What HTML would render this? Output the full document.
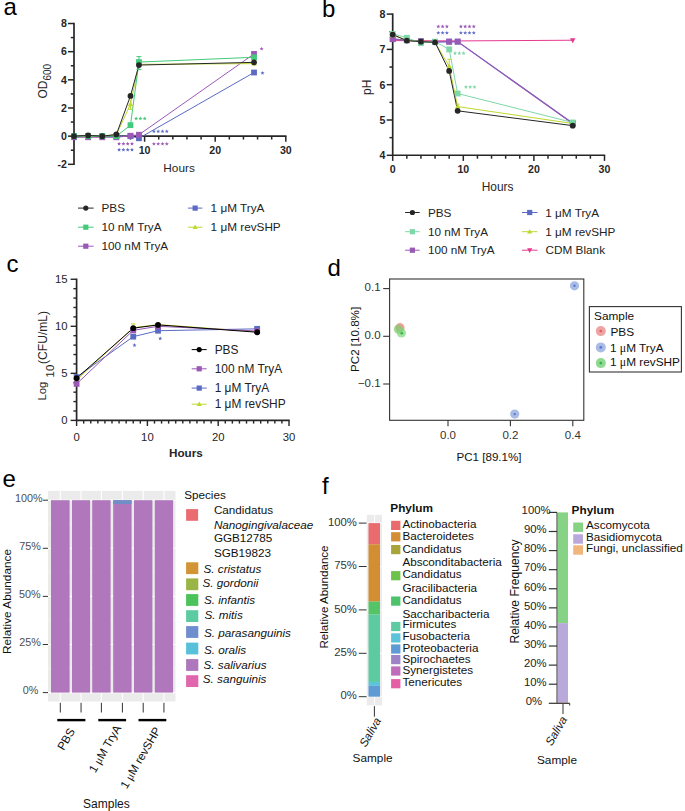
<!DOCTYPE html>
<html><head><meta charset="utf-8"><style>
html,body{margin:0;padding:0;background:#fff;}
body{width:685px;height:811px;overflow:hidden;}
svg{display:block;font-family:"Liberation Sans", sans-serif;}
</style></head><body>
<svg width="685" height="811" viewBox="0 0 685 811" font-family='"Liberation Sans", sans-serif'>
<rect width="685" height="811" fill="#fff"/>
<text x="3.50" y="15.20" font-size="24" text-anchor="start" font-weight="normal" font-style="normal" fill="#000" >a</text>
<line x1="74.00" y1="22.81" x2="74.00" y2="165.01" stroke="#262626" stroke-width="1.7" />
<line x1="74.00" y1="136.15" x2="286.50" y2="136.15" stroke="#262626" stroke-width="1.6" />
<line x1="68.00" y1="164.31" x2="74.00" y2="164.31" stroke="#262626" stroke-width="1.5" />
<line x1="70.80" y1="150.23" x2="74.00" y2="150.23" stroke="#262626" stroke-width="1.5" />
<line x1="68.00" y1="136.15" x2="74.00" y2="136.15" stroke="#262626" stroke-width="1.5" />
<line x1="70.80" y1="122.07" x2="74.00" y2="122.07" stroke="#262626" stroke-width="1.5" />
<line x1="68.00" y1="107.99" x2="74.00" y2="107.99" stroke="#262626" stroke-width="1.5" />
<line x1="70.80" y1="93.91" x2="74.00" y2="93.91" stroke="#262626" stroke-width="1.5" />
<line x1="68.00" y1="79.83" x2="74.00" y2="79.83" stroke="#262626" stroke-width="1.5" />
<line x1="70.80" y1="65.75" x2="74.00" y2="65.75" stroke="#262626" stroke-width="1.5" />
<line x1="68.00" y1="51.67" x2="74.00" y2="51.67" stroke="#262626" stroke-width="1.5" />
<line x1="70.80" y1="37.59" x2="74.00" y2="37.59" stroke="#262626" stroke-width="1.5" />
<line x1="68.00" y1="23.51" x2="74.00" y2="23.51" stroke="#262626" stroke-width="1.5" />
<text x="66.90" y="168.11" font-size="10.6" text-anchor="end" font-weight="bold" font-style="normal" fill="#262626" >-2</text>
<text x="66.90" y="139.95" font-size="10.6" text-anchor="end" font-weight="bold" font-style="normal" fill="#262626" >0</text>
<text x="66.90" y="111.79" font-size="10.6" text-anchor="end" font-weight="bold" font-style="normal" fill="#262626" >2</text>
<text x="66.90" y="83.63" font-size="10.6" text-anchor="end" font-weight="bold" font-style="normal" fill="#262626" >4</text>
<text x="66.90" y="55.47" font-size="10.6" text-anchor="end" font-weight="bold" font-style="normal" fill="#262626" >6</text>
<text x="66.90" y="27.31" font-size="10.6" text-anchor="end" font-weight="bold" font-style="normal" fill="#262626" >8</text>
<line x1="88.12" y1="136.15" x2="88.12" y2="139.55" stroke="#262626" stroke-width="1.5" />
<line x1="102.24" y1="136.15" x2="102.24" y2="139.55" stroke="#262626" stroke-width="1.5" />
<line x1="116.36" y1="136.15" x2="116.36" y2="139.55" stroke="#262626" stroke-width="1.5" />
<line x1="130.48" y1="136.15" x2="130.48" y2="139.55" stroke="#262626" stroke-width="1.5" />
<line x1="144.60" y1="136.15" x2="144.60" y2="141.75" stroke="#262626" stroke-width="1.5" />
<line x1="158.72" y1="136.15" x2="158.72" y2="139.55" stroke="#262626" stroke-width="1.5" />
<line x1="172.84" y1="136.15" x2="172.84" y2="139.55" stroke="#262626" stroke-width="1.5" />
<line x1="186.96" y1="136.15" x2="186.96" y2="139.55" stroke="#262626" stroke-width="1.5" />
<line x1="201.08" y1="136.15" x2="201.08" y2="139.55" stroke="#262626" stroke-width="1.5" />
<line x1="215.20" y1="136.15" x2="215.20" y2="141.75" stroke="#262626" stroke-width="1.5" />
<line x1="229.32" y1="136.15" x2="229.32" y2="139.55" stroke="#262626" stroke-width="1.5" />
<line x1="243.44" y1="136.15" x2="243.44" y2="139.55" stroke="#262626" stroke-width="1.5" />
<line x1="257.56" y1="136.15" x2="257.56" y2="139.55" stroke="#262626" stroke-width="1.5" />
<line x1="271.68" y1="136.15" x2="271.68" y2="139.55" stroke="#262626" stroke-width="1.5" />
<line x1="285.80" y1="136.15" x2="285.80" y2="141.75" stroke="#262626" stroke-width="1.5" />
<text x="144.60" y="154.00" font-size="10.6" text-anchor="middle" font-weight="bold" font-style="normal" fill="#262626" >10</text>
<text x="215.20" y="154.00" font-size="10.6" text-anchor="middle" font-weight="bold" font-style="normal" fill="#262626" >20</text>
<text x="285.80" y="154.00" font-size="10.6" text-anchor="middle" font-weight="bold" font-style="normal" fill="#262626" >30</text>
<text x="179.05" y="171.60" font-size="11.8" text-anchor="middle" font-weight="normal" font-style="normal" fill="#262626" >Hours</text>
<text transform="translate(46.6,98.6) rotate(-90)" font-size="12" fill="#262626">OD<tspan font-size="10" dy="4.2">600</tspan></text>
<polyline points="74.00,136.15 88.12,136.15 102.24,136.15 116.36,136.15 130.48,136.15 138.95,138.26 254.03,72.51" fill="none" stroke="#5B6BC4" stroke-width="1.0" stroke-linejoin="round" />
<polyline points="74.00,137.28 88.12,137.28 102.24,137.28 116.36,137.28 130.48,135.73 138.95,134.74 254.03,53.92" fill="none" stroke="#9B59B6" stroke-width="1.0" stroke-linejoin="round" />
<polyline points="74.00,136.15 88.12,136.15 102.24,136.15 116.36,134.74 130.48,104.19 138.95,64.34 254.03,63.64" fill="none" stroke="#BFD730" stroke-width="1.0" stroke-linejoin="round" />
<polyline points="74.00,136.15 88.12,136.15 102.24,136.15 116.36,136.15 130.48,125.17 138.95,62.09 254.03,57.30" fill="none" stroke="#45C97A" stroke-width="1.0" stroke-linejoin="round" />
<polyline points="74.00,136.15 88.12,135.45 102.24,136.15 116.36,134.46 130.48,95.88 138.95,65.05 254.03,62.37" fill="none" stroke="#262626" stroke-width="1.0" stroke-linejoin="round" />
<line x1="138.95" y1="69.55" x2="138.95" y2="56.60" stroke="#45C97A" stroke-width="1.0" />
<line x1="136.45" y1="56.60" x2="141.45" y2="56.60" stroke="#45C97A" stroke-width="1.0" />
<line x1="136.45" y1="69.55" x2="141.45" y2="69.55" stroke="#45C97A" stroke-width="1.0" />
<line x1="130.48" y1="109.40" x2="130.48" y2="99.54" stroke="#BFD730" stroke-width="1.0" />
<line x1="128.48" y1="109.40" x2="132.48" y2="109.40" stroke="#BFD730" stroke-width="1.0" />
<rect x="71.10" y="133.25" width="5.80" height="5.80" fill="#5B6BC4" />
<rect x="85.22" y="133.25" width="5.80" height="5.80" fill="#5B6BC4" />
<rect x="99.34" y="133.25" width="5.80" height="5.80" fill="#5B6BC4" />
<rect x="113.46" y="133.25" width="5.80" height="5.80" fill="#5B6BC4" />
<rect x="127.58" y="133.25" width="5.80" height="5.80" fill="#5B6BC4" />
<rect x="136.05" y="135.36" width="5.80" height="5.80" fill="#5B6BC4" />
<rect x="251.13" y="69.61" width="5.80" height="5.80" fill="#5B6BC4" />
<rect x="71.10" y="134.38" width="5.80" height="5.80" fill="#9B59B6" />
<rect x="85.22" y="134.38" width="5.80" height="5.80" fill="#9B59B6" />
<rect x="99.34" y="134.38" width="5.80" height="5.80" fill="#9B59B6" />
<rect x="113.46" y="134.38" width="5.80" height="5.80" fill="#9B59B6" />
<rect x="127.58" y="132.83" width="5.80" height="5.80" fill="#9B59B6" />
<rect x="136.05" y="131.84" width="5.80" height="5.80" fill="#9B59B6" />
<rect x="251.13" y="51.02" width="5.80" height="5.80" fill="#9B59B6" />
<polygon points="74.00,133.18 71.25,138.13 76.75,138.13" fill="#BFD730"/>
<polygon points="88.12,133.18 85.37,138.13 90.87,138.13" fill="#BFD730"/>
<polygon points="102.24,133.18 99.49,138.13 104.99,138.13" fill="#BFD730"/>
<polygon points="116.36,131.77 113.61,136.72 119.11,136.72" fill="#BFD730"/>
<polygon points="130.48,101.22 127.73,106.17 133.23,106.17" fill="#BFD730"/>
<polygon points="138.95,61.37 136.20,66.32 141.70,66.32" fill="#BFD730"/>
<polygon points="254.03,60.67 251.28,65.62 256.78,65.62" fill="#BFD730"/>
<rect x="71.10" y="133.25" width="5.80" height="5.80" fill="#45C97A" />
<rect x="85.22" y="133.25" width="5.80" height="5.80" fill="#45C97A" />
<rect x="99.34" y="133.25" width="5.80" height="5.80" fill="#45C97A" />
<rect x="113.46" y="133.25" width="5.80" height="5.80" fill="#45C97A" />
<rect x="127.58" y="122.27" width="5.80" height="5.80" fill="#45C97A" />
<rect x="136.05" y="59.19" width="5.80" height="5.80" fill="#45C97A" />
<rect x="251.13" y="54.40" width="5.80" height="5.80" fill="#45C97A" />
<circle cx="74.00" cy="136.15" r="2.90" fill="#262626" />
<circle cx="88.12" cy="135.45" r="2.90" fill="#262626" />
<circle cx="102.24" cy="136.15" r="2.90" fill="#262626" />
<circle cx="116.36" cy="134.46" r="2.90" fill="#262626" />
<circle cx="130.48" cy="95.88" r="2.90" fill="#262626" />
<circle cx="138.95" cy="65.05" r="2.90" fill="#262626" />
<circle cx="254.03" cy="62.37" r="2.90" fill="#262626" />
<polygon points="136.10,116.50 136.66,117.84 138.10,117.95 137.00,118.89 137.33,120.30 136.10,119.54 134.87,120.30 135.20,118.89 134.10,117.95 135.54,117.84" fill="#45C97A"/>
<polygon points="140.40,116.50 140.96,117.84 142.40,117.95 141.30,118.89 141.63,120.30 140.40,119.54 139.17,120.30 139.50,118.89 138.40,117.95 139.84,117.84" fill="#45C97A"/>
<polygon points="144.70,116.50 145.26,117.84 146.70,117.95 145.60,118.89 145.93,120.30 144.70,119.54 143.47,120.30 143.80,118.89 142.70,117.95 144.14,117.84" fill="#45C97A"/>
<polygon points="119.10,141.70 119.66,143.04 121.10,143.15 120.00,144.09 120.33,145.50 119.10,144.75 117.87,145.50 118.20,144.09 117.10,143.15 118.54,143.04" fill="#9B59B6"/>
<polygon points="123.40,141.70 123.96,143.04 125.40,143.15 124.30,144.09 124.63,145.50 123.40,144.75 122.17,145.50 122.50,144.09 121.40,143.15 122.84,143.04" fill="#9B59B6"/>
<polygon points="127.70,141.70 128.26,143.04 129.70,143.15 128.60,144.09 128.93,145.50 127.70,144.75 126.47,145.50 126.80,144.09 125.70,143.15 127.14,143.04" fill="#9B59B6"/>
<polygon points="132.00,141.70 132.56,143.04 134.00,143.15 132.90,144.09 133.23,145.50 132.00,144.75 130.77,145.50 131.10,144.09 130.00,143.15 131.44,143.04" fill="#9B59B6"/>
<polygon points="119.10,147.70 119.66,149.04 121.10,149.15 120.00,150.09 120.33,151.50 119.10,150.75 117.87,151.50 118.20,150.09 117.10,149.15 118.54,149.04" fill="#5B6BC4"/>
<polygon points="123.40,147.70 123.96,149.04 125.40,149.15 124.30,150.09 124.63,151.50 123.40,150.75 122.17,151.50 122.50,150.09 121.40,149.15 122.84,149.04" fill="#5B6BC4"/>
<polygon points="127.70,147.70 128.26,149.04 129.70,149.15 128.60,150.09 128.93,151.50 127.70,150.75 126.47,151.50 126.80,150.09 125.70,149.15 127.14,149.04" fill="#5B6BC4"/>
<polygon points="132.00,147.70 132.56,149.04 134.00,149.15 132.90,150.09 133.23,151.50 132.00,150.75 130.77,151.50 131.10,150.09 130.00,149.15 131.44,149.04" fill="#5B6BC4"/>
<polygon points="153.90,129.30 154.46,130.64 155.90,130.75 154.80,131.69 155.13,133.10 153.90,132.34 152.67,133.10 153.00,131.69 151.90,130.75 153.34,130.64" fill="#5B6BC4"/>
<polygon points="158.20,129.30 158.76,130.64 160.20,130.75 159.10,131.69 159.43,133.10 158.20,132.34 156.97,133.10 157.30,131.69 156.20,130.75 157.64,130.64" fill="#5B6BC4"/>
<polygon points="162.50,129.30 163.06,130.64 164.50,130.75 163.40,131.69 163.73,133.10 162.50,132.34 161.27,133.10 161.60,131.69 160.50,130.75 161.94,130.64" fill="#5B6BC4"/>
<polygon points="166.80,129.30 167.36,130.64 168.80,130.75 167.70,131.69 168.03,133.10 166.80,132.34 165.57,133.10 165.90,131.69 164.80,130.75 166.24,130.64" fill="#5B6BC4"/>
<polygon points="153.90,141.80 154.46,143.14 155.90,143.25 154.80,144.19 155.13,145.60 153.90,144.84 152.67,145.60 153.00,144.19 151.90,143.25 153.34,143.14" fill="#9B59B6"/>
<polygon points="158.20,141.80 158.76,143.14 160.20,143.25 159.10,144.19 159.43,145.60 158.20,144.84 156.97,145.60 157.30,144.19 156.20,143.25 157.64,143.14" fill="#9B59B6"/>
<polygon points="162.50,141.80 163.06,143.14 164.50,143.25 163.40,144.19 163.73,145.60 162.50,144.84 161.27,145.60 161.60,144.19 160.50,143.25 161.94,143.14" fill="#9B59B6"/>
<polygon points="166.80,141.80 167.36,143.14 168.80,143.25 167.70,144.19 168.03,145.60 166.80,144.84 165.57,145.60 165.90,144.19 164.80,143.25 166.24,143.14" fill="#9B59B6"/>
<polygon points="261.60,46.80 262.16,48.14 263.60,48.25 262.50,49.19 262.83,50.60 261.60,49.84 260.37,50.60 260.70,49.19 259.60,48.25 261.04,48.14" fill="#9B59B6"/>
<polygon points="262.50,70.90 263.06,72.24 264.50,72.35 263.40,73.29 263.73,74.70 262.50,73.94 261.27,74.70 261.60,73.29 260.50,72.35 261.94,72.24" fill="#5B6BC4"/>
<line x1="78.00" y1="208.10" x2="93.60" y2="208.10" stroke="#262626" stroke-width="1.0" />
<circle cx="85.80" cy="208.10" r="2.60" fill="#262626" />
<text x="101.50" y="212.20" font-size="11.75" text-anchor="start" font-weight="normal" font-style="normal" fill="#222" >PBS</text>
<line x1="78.00" y1="227.20" x2="93.60" y2="227.20" stroke="#45C97A" stroke-width="1.0" />
<rect x="83.20" y="224.60" width="5.20" height="5.20" fill="#45C97A" />
<text x="101.50" y="231.30" font-size="11.75" text-anchor="start" font-weight="normal" font-style="normal" fill="#222" >10 nM TryA</text>
<line x1="78.00" y1="246.20" x2="93.60" y2="246.20" stroke="#9B59B6" stroke-width="1.0" />
<rect x="83.20" y="243.60" width="5.20" height="5.20" fill="#9B59B6" />
<text x="101.50" y="250.30" font-size="11.75" text-anchor="start" font-weight="normal" font-style="normal" fill="#222" >100 nM TryA</text>
<line x1="187.90" y1="208.10" x2="202.40" y2="208.10" stroke="#5B6BC4" stroke-width="1.0" />
<rect x="192.55" y="205.50" width="5.20" height="5.20" fill="#5B6BC4" />
<text x="210.60" y="212.20" font-size="11.75" text-anchor="start" font-weight="normal" font-style="normal" fill="#222" >1 μM TryA</text>
<line x1="187.90" y1="227.20" x2="202.40" y2="227.20" stroke="#BFD730" stroke-width="1.0" />
<polygon points="195.15,224.39 192.55,229.07 197.75,229.07" fill="#BFD730"/>
<text x="210.60" y="231.30" font-size="11.75" text-anchor="start" font-weight="normal" font-style="normal" fill="#222" >1 μM revSHP</text>
<text x="322.00" y="17.30" font-size="24" text-anchor="start" font-weight="normal" font-style="normal" fill="#000" >b</text>
<line x1="392.70" y1="13.40" x2="392.70" y2="156.00" stroke="#262626" stroke-width="1.7" />
<line x1="392.70" y1="155.30" x2="605.20" y2="155.30" stroke="#262626" stroke-width="1.6" />
<line x1="386.70" y1="155.30" x2="392.70" y2="155.30" stroke="#262626" stroke-width="1.5" />
<line x1="389.50" y1="137.65" x2="392.70" y2="137.65" stroke="#262626" stroke-width="1.5" />
<line x1="386.70" y1="120.00" x2="392.70" y2="120.00" stroke="#262626" stroke-width="1.5" />
<line x1="389.50" y1="102.35" x2="392.70" y2="102.35" stroke="#262626" stroke-width="1.5" />
<line x1="386.70" y1="84.70" x2="392.70" y2="84.70" stroke="#262626" stroke-width="1.5" />
<line x1="389.50" y1="67.05" x2="392.70" y2="67.05" stroke="#262626" stroke-width="1.5" />
<line x1="386.70" y1="49.40" x2="392.70" y2="49.40" stroke="#262626" stroke-width="1.5" />
<line x1="389.50" y1="31.75" x2="392.70" y2="31.75" stroke="#262626" stroke-width="1.5" />
<line x1="386.70" y1="14.10" x2="392.70" y2="14.10" stroke="#262626" stroke-width="1.5" />
<text x="385.40" y="159.10" font-size="10.6" text-anchor="end" font-weight="bold" font-style="normal" fill="#262626" >4</text>
<text x="385.40" y="123.80" font-size="10.6" text-anchor="end" font-weight="bold" font-style="normal" fill="#262626" >5</text>
<text x="385.40" y="88.50" font-size="10.6" text-anchor="end" font-weight="bold" font-style="normal" fill="#262626" >6</text>
<text x="385.40" y="53.20" font-size="10.6" text-anchor="end" font-weight="bold" font-style="normal" fill="#262626" >7</text>
<text x="385.40" y="17.90" font-size="10.6" text-anchor="end" font-weight="bold" font-style="normal" fill="#262626" >8</text>
<line x1="392.70" y1="155.30" x2="392.70" y2="160.90" stroke="#262626" stroke-width="1.5" />
<line x1="406.82" y1="155.30" x2="406.82" y2="158.70" stroke="#262626" stroke-width="1.5" />
<line x1="420.94" y1="155.30" x2="420.94" y2="158.70" stroke="#262626" stroke-width="1.5" />
<line x1="435.06" y1="155.30" x2="435.06" y2="158.70" stroke="#262626" stroke-width="1.5" />
<line x1="449.18" y1="155.30" x2="449.18" y2="158.70" stroke="#262626" stroke-width="1.5" />
<line x1="463.30" y1="155.30" x2="463.30" y2="160.90" stroke="#262626" stroke-width="1.5" />
<line x1="477.42" y1="155.30" x2="477.42" y2="158.70" stroke="#262626" stroke-width="1.5" />
<line x1="491.54" y1="155.30" x2="491.54" y2="158.70" stroke="#262626" stroke-width="1.5" />
<line x1="505.66" y1="155.30" x2="505.66" y2="158.70" stroke="#262626" stroke-width="1.5" />
<line x1="519.78" y1="155.30" x2="519.78" y2="158.70" stroke="#262626" stroke-width="1.5" />
<line x1="533.90" y1="155.30" x2="533.90" y2="160.90" stroke="#262626" stroke-width="1.5" />
<line x1="548.02" y1="155.30" x2="548.02" y2="158.70" stroke="#262626" stroke-width="1.5" />
<line x1="562.14" y1="155.30" x2="562.14" y2="158.70" stroke="#262626" stroke-width="1.5" />
<line x1="576.26" y1="155.30" x2="576.26" y2="158.70" stroke="#262626" stroke-width="1.5" />
<line x1="590.38" y1="155.30" x2="590.38" y2="158.70" stroke="#262626" stroke-width="1.5" />
<line x1="604.50" y1="155.30" x2="604.50" y2="160.90" stroke="#262626" stroke-width="1.5" />
<text x="392.70" y="173.40" font-size="10.6" text-anchor="middle" font-weight="bold" font-style="normal" fill="#262626" >0</text>
<text x="463.30" y="173.40" font-size="10.6" text-anchor="middle" font-weight="bold" font-style="normal" fill="#262626" >10</text>
<text x="533.90" y="173.40" font-size="10.6" text-anchor="middle" font-weight="bold" font-style="normal" fill="#262626" >20</text>
<text x="604.50" y="173.40" font-size="10.6" text-anchor="middle" font-weight="bold" font-style="normal" fill="#262626" >30</text>
<text x="497.60" y="190.80" font-size="11.9" text-anchor="middle" font-weight="normal" font-style="normal" fill="#262626" >Hours</text>
<text transform="translate(370.8,87.3) rotate(-90)" font-size="12" text-anchor="middle" fill="#262626">pH</text>
<polyline points="392.70,40.58 457.65,40.93 572.73,40.22" fill="none" stroke="#E6388E" stroke-width="1.0" stroke-linejoin="round" />
<polyline points="392.70,39.16 406.82,40.22 420.94,41.28 435.06,41.99 449.18,41.63 457.65,41.63 572.73,123.18" fill="none" stroke="#5B6BC4" stroke-width="1.2" stroke-linejoin="round" />
<polyline points="392.70,39.16 406.82,40.22 420.94,41.28 435.06,41.99 449.18,41.63 457.65,41.63 572.73,123.53" fill="none" stroke="#9B59B6" stroke-width="1.2" stroke-linejoin="round" />
<polyline points="392.70,35.28 406.82,40.22 420.94,41.63 435.06,42.34 449.18,66.34 457.65,106.59 572.73,123.53" fill="none" stroke="#BFD730" stroke-width="1.0" stroke-linejoin="round" />
<polyline points="392.70,33.87 406.82,37.75 420.94,43.05 435.06,41.63 449.18,49.40 457.65,93.53 572.73,122.47" fill="none" stroke="#7ED8A8" stroke-width="1.0" stroke-linejoin="round" />
<polyline points="392.70,34.57 406.82,40.58 420.94,41.63 435.06,42.34 449.18,70.93 457.65,110.82 572.73,125.65" fill="none" stroke="#262626" stroke-width="1.0" stroke-linejoin="round" />
<line x1="449.18" y1="67.05" x2="449.18" y2="59.28" stroke="#BFD730" stroke-width="1.0" />
<line x1="447.18" y1="59.28" x2="451.18" y2="59.28" stroke="#BFD730" stroke-width="1.0" />
<line x1="455.65" y1="104.12" x2="459.65" y2="104.12" stroke="#BFD730" stroke-width="1.0" />
<rect x="389.80" y="36.26" width="5.80" height="5.80" fill="#5B6BC4" />
<rect x="403.92" y="37.32" width="5.80" height="5.80" fill="#5B6BC4" />
<rect x="418.04" y="38.38" width="5.80" height="5.80" fill="#5B6BC4" />
<rect x="432.16" y="39.09" width="5.80" height="5.80" fill="#5B6BC4" />
<rect x="446.28" y="38.73" width="5.80" height="5.80" fill="#5B6BC4" />
<rect x="454.75" y="38.73" width="5.80" height="5.80" fill="#5B6BC4" />
<rect x="569.83" y="120.28" width="5.80" height="5.80" fill="#5B6BC4" />
<rect x="389.80" y="36.26" width="5.80" height="5.80" fill="#9B59B6" />
<rect x="403.92" y="37.32" width="5.80" height="5.80" fill="#9B59B6" />
<rect x="418.04" y="38.38" width="5.80" height="5.80" fill="#9B59B6" />
<rect x="432.16" y="39.09" width="5.80" height="5.80" fill="#9B59B6" />
<rect x="446.28" y="38.73" width="5.80" height="5.80" fill="#9B59B6" />
<rect x="454.75" y="38.73" width="5.80" height="5.80" fill="#9B59B6" />
<rect x="569.83" y="120.63" width="5.80" height="5.80" fill="#9B59B6" />
<polygon points="392.70,32.31 389.95,37.26 395.45,37.26" fill="#BFD730"/>
<polygon points="406.82,37.25 404.07,42.20 409.57,42.20" fill="#BFD730"/>
<polygon points="420.94,38.66 418.19,43.61 423.69,43.61" fill="#BFD730"/>
<polygon points="435.06,39.37 432.31,44.32 437.81,44.32" fill="#BFD730"/>
<polygon points="449.18,63.37 446.43,68.32 451.93,68.32" fill="#BFD730"/>
<polygon points="457.65,103.62 454.90,108.57 460.40,108.57" fill="#BFD730"/>
<polygon points="572.73,120.56 569.98,125.51 575.48,125.51" fill="#BFD730"/>
<rect x="389.80" y="30.97" width="5.80" height="5.80" fill="#7ED8A8" />
<rect x="403.92" y="34.85" width="5.80" height="5.80" fill="#7ED8A8" />
<rect x="418.04" y="40.15" width="5.80" height="5.80" fill="#7ED8A8" />
<rect x="432.16" y="38.73" width="5.80" height="5.80" fill="#7ED8A8" />
<rect x="446.28" y="46.50" width="5.80" height="5.80" fill="#7ED8A8" />
<rect x="454.75" y="90.63" width="5.80" height="5.80" fill="#7ED8A8" />
<rect x="569.83" y="119.57" width="5.80" height="5.80" fill="#7ED8A8" />
<circle cx="392.70" cy="34.57" r="2.90" fill="#262626" />
<circle cx="406.82" cy="40.58" r="2.90" fill="#262626" />
<circle cx="420.94" cy="41.63" r="2.90" fill="#262626" />
<circle cx="435.06" cy="42.34" r="2.90" fill="#262626" />
<circle cx="449.18" cy="70.93" r="2.90" fill="#262626" />
<circle cx="457.65" cy="110.82" r="2.90" fill="#262626" />
<circle cx="572.73" cy="125.65" r="2.90" fill="#262626" />
<polygon points="572.73,43.19 569.98,38.24 575.48,38.24" fill="#E6388E"/>
<polygon points="438.30,24.40 438.86,25.74 440.30,25.85 439.20,26.79 439.53,28.20 438.30,27.45 437.07,28.20 437.40,26.79 436.30,25.85 437.74,25.74" fill="#9B59B6"/>
<polygon points="442.60,24.40 443.16,25.74 444.60,25.85 443.50,26.79 443.83,28.20 442.60,27.45 441.37,28.20 441.70,26.79 440.60,25.85 442.04,25.74" fill="#9B59B6"/>
<polygon points="446.90,24.40 447.46,25.74 448.90,25.85 447.80,26.79 448.13,28.20 446.90,27.45 445.67,28.20 446.00,26.79 444.90,25.85 446.34,25.74" fill="#9B59B6"/>
<polygon points="438.30,30.80 438.86,32.14 440.30,32.25 439.20,33.19 439.53,34.60 438.30,33.84 437.07,34.60 437.40,33.19 436.30,32.25 437.74,32.14" fill="#5B6BC4"/>
<polygon points="442.60,30.80 443.16,32.14 444.60,32.25 443.50,33.19 443.83,34.60 442.60,33.84 441.37,34.60 441.70,33.19 440.60,32.25 442.04,32.14" fill="#5B6BC4"/>
<polygon points="446.90,30.80 447.46,32.14 448.90,32.25 447.80,33.19 448.13,34.60 446.90,33.84 445.67,34.60 446.00,33.19 444.90,32.25 446.34,32.14" fill="#5B6BC4"/>
<polygon points="460.90,24.40 461.46,25.74 462.90,25.85 461.80,26.79 462.13,28.20 460.90,27.45 459.67,28.20 460.00,26.79 458.90,25.85 460.34,25.74" fill="#9B59B6"/>
<polygon points="465.20,24.40 465.76,25.74 467.20,25.85 466.10,26.79 466.43,28.20 465.20,27.45 463.97,28.20 464.30,26.79 463.20,25.85 464.64,25.74" fill="#9B59B6"/>
<polygon points="469.50,24.40 470.06,25.74 471.50,25.85 470.40,26.79 470.73,28.20 469.50,27.45 468.27,28.20 468.60,26.79 467.50,25.85 468.94,25.74" fill="#9B59B6"/>
<polygon points="473.80,24.40 474.36,25.74 475.80,25.85 474.70,26.79 475.03,28.20 473.80,27.45 472.57,28.20 472.90,26.79 471.80,25.85 473.24,25.74" fill="#9B59B6"/>
<polygon points="460.90,30.80 461.46,32.14 462.90,32.25 461.80,33.19 462.13,34.60 460.90,33.84 459.67,34.60 460.00,33.19 458.90,32.25 460.34,32.14" fill="#5B6BC4"/>
<polygon points="465.20,30.80 465.76,32.14 467.20,32.25 466.10,33.19 466.43,34.60 465.20,33.84 463.97,34.60 464.30,33.19 463.20,32.25 464.64,32.14" fill="#5B6BC4"/>
<polygon points="469.50,30.80 470.06,32.14 471.50,32.25 470.40,33.19 470.73,34.60 469.50,33.84 468.27,34.60 468.60,33.19 467.50,32.25 468.94,32.14" fill="#5B6BC4"/>
<polygon points="473.80,30.80 474.36,32.14 475.80,32.25 474.70,33.19 475.03,34.60 473.80,33.84 472.57,34.60 472.90,33.19 471.80,32.25 473.24,32.14" fill="#5B6BC4"/>
<polygon points="455.00,51.10 455.56,52.44 457.00,52.55 455.90,53.49 456.23,54.90 455.00,54.15 453.77,54.90 454.10,53.49 453.00,52.55 454.44,52.44" fill="#7ED8A8"/>
<polygon points="459.30,51.10 459.86,52.44 461.30,52.55 460.20,53.49 460.53,54.90 459.30,54.15 458.07,54.90 458.40,53.49 457.30,52.55 458.74,52.44" fill="#7ED8A8"/>
<polygon points="463.60,51.10 464.16,52.44 465.60,52.55 464.50,53.49 464.83,54.90 463.60,54.15 462.37,54.90 462.70,53.49 461.60,52.55 463.04,52.44" fill="#7ED8A8"/>
<polygon points="465.90,84.90 466.46,86.24 467.90,86.35 466.80,87.29 467.13,88.70 465.90,87.94 464.67,88.70 465.00,87.29 463.90,86.35 465.34,86.24" fill="#7ED8A8"/>
<polygon points="470.20,84.90 470.76,86.24 472.20,86.35 471.10,87.29 471.43,88.70 470.20,87.94 468.97,88.70 469.30,87.29 468.20,86.35 469.64,86.24" fill="#7ED8A8"/>
<polygon points="474.50,84.90 475.06,86.24 476.50,86.35 475.40,87.29 475.73,88.70 474.50,87.94 473.27,88.70 473.60,87.29 472.50,86.35 473.94,86.24" fill="#7ED8A8"/>
<line x1="405.10" y1="212.50" x2="419.70" y2="212.50" stroke="#262626" stroke-width="1.0" />
<circle cx="412.40" cy="212.50" r="2.60" fill="#262626" />
<text x="427.90" y="216.60" font-size="11.75" text-anchor="start" font-weight="normal" font-style="normal" fill="#222" >PBS</text>
<line x1="405.10" y1="231.70" x2="419.70" y2="231.70" stroke="#7ED8A8" stroke-width="1.0" />
<rect x="409.80" y="229.10" width="5.20" height="5.20" fill="#7ED8A8" />
<text x="427.90" y="235.80" font-size="11.75" text-anchor="start" font-weight="normal" font-style="normal" fill="#222" >10 nM TryA</text>
<line x1="405.10" y1="250.20" x2="419.70" y2="250.20" stroke="#9B59B6" stroke-width="1.0" />
<rect x="409.80" y="247.60" width="5.20" height="5.20" fill="#9B59B6" />
<text x="427.90" y="254.30" font-size="11.75" text-anchor="start" font-weight="normal" font-style="normal" fill="#222" >100 nM TryA</text>
<line x1="522.00" y1="212.50" x2="537.40" y2="212.50" stroke="#5B6BC4" stroke-width="1.0" />
<rect x="527.10" y="209.90" width="5.20" height="5.20" fill="#5B6BC4" />
<text x="545.30" y="216.60" font-size="11.75" text-anchor="start" font-weight="normal" font-style="normal" fill="#222" >1 μM TryA</text>
<line x1="522.00" y1="231.70" x2="537.40" y2="231.70" stroke="#BFD730" stroke-width="1.0" />
<polygon points="529.70,228.89 527.10,233.57 532.30,233.57" fill="#BFD730"/>
<text x="545.30" y="235.80" font-size="11.75" text-anchor="start" font-weight="normal" font-style="normal" fill="#222" >1 μM revSHP</text>
<line x1="522.00" y1="250.20" x2="537.40" y2="250.20" stroke="#E6388E" stroke-width="1.0" />
<polygon points="529.70,253.01 527.10,248.33 532.30,248.33" fill="#E6388E"/>
<text x="545.60" y="254.30" font-size="11.75" text-anchor="start" font-weight="normal" font-style="normal" fill="#222" >CDM Blank</text>
<text x="6.50" y="272.00" font-size="24" text-anchor="start" font-weight="normal" font-style="normal" fill="#000" >c</text>
<line x1="76.60" y1="278.55" x2="76.60" y2="421.10" stroke="#262626" stroke-width="1.7" />
<line x1="76.60" y1="420.40" x2="289.70" y2="420.40" stroke="#262626" stroke-width="1.6" />
<line x1="70.60" y1="420.40" x2="76.60" y2="420.40" stroke="#262626" stroke-width="1.4" />
<line x1="73.40" y1="410.99" x2="76.60" y2="410.99" stroke="#262626" stroke-width="1.4" />
<line x1="73.40" y1="401.58" x2="76.60" y2="401.58" stroke="#262626" stroke-width="1.4" />
<line x1="73.40" y1="392.17" x2="76.60" y2="392.17" stroke="#262626" stroke-width="1.4" />
<line x1="73.40" y1="382.76" x2="76.60" y2="382.76" stroke="#262626" stroke-width="1.4" />
<line x1="70.60" y1="373.35" x2="76.60" y2="373.35" stroke="#262626" stroke-width="1.4" />
<line x1="73.40" y1="363.94" x2="76.60" y2="363.94" stroke="#262626" stroke-width="1.4" />
<line x1="73.40" y1="354.53" x2="76.60" y2="354.53" stroke="#262626" stroke-width="1.4" />
<line x1="73.40" y1="345.12" x2="76.60" y2="345.12" stroke="#262626" stroke-width="1.4" />
<line x1="73.40" y1="335.71" x2="76.60" y2="335.71" stroke="#262626" stroke-width="1.4" />
<line x1="70.60" y1="326.30" x2="76.60" y2="326.30" stroke="#262626" stroke-width="1.4" />
<line x1="73.40" y1="316.89" x2="76.60" y2="316.89" stroke="#262626" stroke-width="1.4" />
<line x1="73.40" y1="307.48" x2="76.60" y2="307.48" stroke="#262626" stroke-width="1.4" />
<line x1="73.40" y1="298.07" x2="76.60" y2="298.07" stroke="#262626" stroke-width="1.4" />
<line x1="73.40" y1="288.66" x2="76.60" y2="288.66" stroke="#262626" stroke-width="1.4" />
<line x1="70.60" y1="279.25" x2="76.60" y2="279.25" stroke="#262626" stroke-width="1.4" />
<text x="67.60" y="424.40" font-size="11.3" text-anchor="end" font-weight="normal" font-style="normal" fill="#262626" >0</text>
<text x="67.60" y="377.35" font-size="11.3" text-anchor="end" font-weight="normal" font-style="normal" fill="#262626" >5</text>
<text x="67.60" y="330.30" font-size="11.3" text-anchor="end" font-weight="normal" font-style="normal" fill="#262626" >10</text>
<text x="67.60" y="283.25" font-size="11.3" text-anchor="end" font-weight="normal" font-style="normal" fill="#262626" >15</text>
<line x1="76.60" y1="420.40" x2="76.60" y2="426.00" stroke="#262626" stroke-width="1.4" />
<line x1="83.68" y1="420.40" x2="83.68" y2="423.60" stroke="#262626" stroke-width="1.4" />
<line x1="90.76" y1="420.40" x2="90.76" y2="423.60" stroke="#262626" stroke-width="1.4" />
<line x1="97.84" y1="420.40" x2="97.84" y2="423.60" stroke="#262626" stroke-width="1.4" />
<line x1="104.92" y1="420.40" x2="104.92" y2="423.60" stroke="#262626" stroke-width="1.4" />
<line x1="112.00" y1="420.40" x2="112.00" y2="423.60" stroke="#262626" stroke-width="1.4" />
<line x1="119.08" y1="420.40" x2="119.08" y2="423.60" stroke="#262626" stroke-width="1.4" />
<line x1="126.16" y1="420.40" x2="126.16" y2="423.60" stroke="#262626" stroke-width="1.4" />
<line x1="133.24" y1="420.40" x2="133.24" y2="423.60" stroke="#262626" stroke-width="1.4" />
<line x1="140.32" y1="420.40" x2="140.32" y2="423.60" stroke="#262626" stroke-width="1.4" />
<line x1="147.40" y1="420.40" x2="147.40" y2="426.00" stroke="#262626" stroke-width="1.4" />
<line x1="154.48" y1="420.40" x2="154.48" y2="423.60" stroke="#262626" stroke-width="1.4" />
<line x1="161.56" y1="420.40" x2="161.56" y2="423.60" stroke="#262626" stroke-width="1.4" />
<line x1="168.64" y1="420.40" x2="168.64" y2="423.60" stroke="#262626" stroke-width="1.4" />
<line x1="175.72" y1="420.40" x2="175.72" y2="423.60" stroke="#262626" stroke-width="1.4" />
<line x1="182.80" y1="420.40" x2="182.80" y2="423.60" stroke="#262626" stroke-width="1.4" />
<line x1="189.88" y1="420.40" x2="189.88" y2="423.60" stroke="#262626" stroke-width="1.4" />
<line x1="196.96" y1="420.40" x2="196.96" y2="423.60" stroke="#262626" stroke-width="1.4" />
<line x1="204.04" y1="420.40" x2="204.04" y2="423.60" stroke="#262626" stroke-width="1.4" />
<line x1="211.12" y1="420.40" x2="211.12" y2="423.60" stroke="#262626" stroke-width="1.4" />
<line x1="218.20" y1="420.40" x2="218.20" y2="426.00" stroke="#262626" stroke-width="1.4" />
<line x1="225.28" y1="420.40" x2="225.28" y2="423.60" stroke="#262626" stroke-width="1.4" />
<line x1="232.36" y1="420.40" x2="232.36" y2="423.60" stroke="#262626" stroke-width="1.4" />
<line x1="239.44" y1="420.40" x2="239.44" y2="423.60" stroke="#262626" stroke-width="1.4" />
<line x1="246.52" y1="420.40" x2="246.52" y2="423.60" stroke="#262626" stroke-width="1.4" />
<line x1="253.60" y1="420.40" x2="253.60" y2="423.60" stroke="#262626" stroke-width="1.4" />
<line x1="260.68" y1="420.40" x2="260.68" y2="423.60" stroke="#262626" stroke-width="1.4" />
<line x1="267.76" y1="420.40" x2="267.76" y2="423.60" stroke="#262626" stroke-width="1.4" />
<line x1="274.84" y1="420.40" x2="274.84" y2="423.60" stroke="#262626" stroke-width="1.4" />
<line x1="281.92" y1="420.40" x2="281.92" y2="423.60" stroke="#262626" stroke-width="1.4" />
<line x1="289.00" y1="420.40" x2="289.00" y2="426.00" stroke="#262626" stroke-width="1.4" />
<text x="76.60" y="441.20" font-size="11.3" text-anchor="middle" font-weight="normal" font-style="normal" fill="#262626" >0</text>
<text x="147.40" y="441.20" font-size="11.3" text-anchor="middle" font-weight="normal" font-style="normal" fill="#262626" >10</text>
<text x="218.20" y="441.20" font-size="11.3" text-anchor="middle" font-weight="normal" font-style="normal" fill="#262626" >20</text>
<text x="289.00" y="441.20" font-size="11.3" text-anchor="middle" font-weight="normal" font-style="normal" fill="#262626" >30</text>
<text x="185.90" y="456.50" font-size="11.7" text-anchor="middle" font-weight="bold" font-style="normal" fill="#262626" >Hours</text>
<text transform="translate(46.3,400.6) rotate(-90)" font-size="11.4" fill="#262626">Log</text>
<text transform="translate(54.0,377.4) rotate(-90)" font-size="11.4" fill="#262626">10</text>
<text transform="translate(46.6,364.0) rotate(-90)" font-size="12.1" fill="#262626">(CFU/mL)</text>
<polyline points="76.60,379.94 133.24,327.71 158.02,324.61 257.14,331.76" fill="none" stroke="#BFD730" stroke-width="1.0" stroke-linejoin="round" />
<polyline points="76.60,377.11 133.24,336.65 158.02,330.72 257.14,328.84" fill="none" stroke="#5B6BC4" stroke-width="1.0" stroke-linejoin="round" />
<polyline points="76.60,383.89 133.24,330.35 158.02,326.30 257.14,331.00" fill="none" stroke="#9B59B6" stroke-width="1.0" stroke-linejoin="round" />
<polyline points="76.60,378.24 133.24,328.18 158.02,324.89 257.14,332.23" fill="none" stroke="#000" stroke-width="1.0" stroke-linejoin="round" />
<polygon points="76.60,376.97 73.85,381.92 79.35,381.92" fill="#BFD730"/>
<polygon points="133.24,324.74 130.49,329.69 135.99,329.69" fill="#BFD730"/>
<polygon points="158.02,321.64 155.27,326.59 160.77,326.59" fill="#BFD730"/>
<polygon points="257.14,328.79 254.39,333.74 259.89,333.74" fill="#BFD730"/>
<rect x="73.70" y="374.21" width="5.80" height="5.80" fill="#5B6BC4" />
<rect x="130.34" y="333.75" width="5.80" height="5.80" fill="#5B6BC4" />
<rect x="155.12" y="327.82" width="5.80" height="5.80" fill="#5B6BC4" />
<rect x="254.24" y="325.94" width="5.80" height="5.80" fill="#5B6BC4" />
<rect x="73.70" y="380.99" width="5.80" height="5.80" fill="#9B59B6" />
<rect x="130.34" y="327.45" width="5.80" height="5.80" fill="#9B59B6" />
<rect x="155.12" y="323.40" width="5.80" height="5.80" fill="#9B59B6" />
<rect x="254.24" y="328.11" width="5.80" height="5.80" fill="#9B59B6" />
<circle cx="76.60" cy="378.24" r="2.90" fill="#000" />
<circle cx="133.24" cy="328.18" r="2.90" fill="#000" />
<circle cx="158.02" cy="324.89" r="2.90" fill="#000" />
<circle cx="257.14" cy="332.23" r="2.90" fill="#000" />
<line x1="131.04" y1="323.95" x2="135.44" y2="323.95" stroke="#BFD730" stroke-width="1.2" />
<polygon points="134.50,343.10 135.06,344.44 136.50,344.55 135.40,345.49 135.73,346.90 134.50,346.14 133.27,346.90 133.60,345.49 132.50,344.55 133.94,344.44" fill="#5B6BC4"/>
<polygon points="160.20,336.40 160.76,337.74 162.20,337.85 161.10,338.79 161.43,340.20 160.20,339.44 158.97,340.20 159.30,338.79 158.20,337.85 159.64,337.74" fill="#5B6BC4"/>
<line x1="191.70" y1="349.60" x2="206.70" y2="349.60" stroke="#000" stroke-width="1.0" />
<circle cx="199.20" cy="349.60" r="2.60" fill="#000" />
<text x="214.70" y="353.70" font-size="11.9" text-anchor="start" font-weight="normal" font-style="normal" fill="#222" >PBS</text>
<line x1="191.70" y1="368.80" x2="206.70" y2="368.80" stroke="#9B59B6" stroke-width="1.0" />
<rect x="196.60" y="366.20" width="5.20" height="5.20" fill="#9B59B6" />
<text x="214.70" y="372.90" font-size="11.9" text-anchor="start" font-weight="normal" font-style="normal" fill="#222" >100 nM TryA</text>
<line x1="191.70" y1="388.10" x2="206.70" y2="388.10" stroke="#5B6BC4" stroke-width="1.0" />
<rect x="196.60" y="385.50" width="5.20" height="5.20" fill="#5B6BC4" />
<text x="214.70" y="392.20" font-size="11.9" text-anchor="start" font-weight="normal" font-style="normal" fill="#222" >1 μM TryA</text>
<line x1="191.70" y1="404.20" x2="206.70" y2="404.20" stroke="#BFD730" stroke-width="1.0" />
<polygon points="199.20,401.39 196.60,406.07 201.80,406.07" fill="#BFD730"/>
<text x="214.70" y="408.30" font-size="11.9" text-anchor="start" font-weight="normal" font-style="normal" fill="#222" >1 μM revSHP</text>
<text x="327.50" y="276.00" font-size="24" text-anchor="start" font-weight="normal" font-style="normal" fill="#000" >d</text>
<rect x="389.60" y="279.00" width="194.20" height="141.30" fill="none" stroke="#333" stroke-width="1.1"/>
<line x1="383.20" y1="288.60" x2="389.60" y2="288.60" stroke="#333" stroke-width="1.1" />
<text x="380.60" y="291.40" font-size="11.5" text-anchor="end" font-weight="normal" font-style="normal" fill="#333" >0.1</text>
<line x1="383.20" y1="336.30" x2="389.60" y2="336.30" stroke="#333" stroke-width="1.1" />
<text x="380.60" y="339.10" font-size="11.5" text-anchor="end" font-weight="normal" font-style="normal" fill="#333" >0.0</text>
<line x1="383.20" y1="384.00" x2="389.60" y2="384.00" stroke="#333" stroke-width="1.1" />
<text x="380.60" y="386.80" font-size="11.5" text-anchor="end" font-weight="normal" font-style="normal" fill="#333" >−0.1</text>
<line x1="448.00" y1="420.30" x2="448.00" y2="426.30" stroke="#333" stroke-width="1.1" />
<text x="448.00" y="439.20" font-size="11.5" text-anchor="middle" font-weight="normal" font-style="normal" fill="#333" >0.0</text>
<line x1="510.40" y1="420.30" x2="510.40" y2="426.30" stroke="#333" stroke-width="1.1" />
<text x="510.40" y="439.20" font-size="11.5" text-anchor="middle" font-weight="normal" font-style="normal" fill="#333" >0.2</text>
<line x1="572.80" y1="420.30" x2="572.80" y2="426.30" stroke="#333" stroke-width="1.1" />
<text x="572.80" y="439.20" font-size="11.5" text-anchor="middle" font-weight="normal" font-style="normal" fill="#333" >0.4</text>
<text x="489.00" y="460.70" font-size="11.6" text-anchor="middle" font-weight="normal" font-style="normal" fill="#111" >PC1 [89.1%]</text>
<text transform="translate(358.8,339.4) rotate(-90)" font-size="11.6" text-anchor="middle" fill="#111">PC2 [10.8%]</text>
<circle cx="400.00" cy="327.70" r="4.60" fill="#F08080" fill-opacity="0.75"/>
<circle cx="398.40" cy="329.20" r="4.60" fill="#7ACB6E" fill-opacity="0.7"/>
<circle cx="401.40" cy="332.90" r="4.60" fill="#7CD67C" fill-opacity="0.7"/>
<circle cx="401.80" cy="333.30" r="1.30" fill="#33B545" />
<circle cx="574.50" cy="285.80" r="4.60" fill="#A9BCE6" />
<circle cx="574.50" cy="285.80" r="1.20" fill="#5A7AD0" />
<circle cx="514.70" cy="414.10" r="4.60" fill="#A9BCE6" />
<circle cx="514.70" cy="414.10" r="1.20" fill="#5A7AD0" />
<rect x="589.40" y="306.60" width="92.00" height="65.40" fill="#fff" stroke="#333" stroke-width="1.1"/>
<text x="594.10" y="320.40" font-size="11.8" text-anchor="start" font-weight="normal" font-style="normal" fill="#111" >Sample</text>
<circle cx="600.80" cy="331.10" r="5.00" fill="#EFA3A3" />
<circle cx="600.80" cy="331.10" r="1.40" fill="#E06060" />
<text x="610.40" y="335.50" font-size="11.8" text-anchor="start" font-weight="normal" font-style="normal" fill="#111" >PBS</text>
<circle cx="600.80" cy="347.40" r="5.00" fill="#A9BCE6" />
<circle cx="600.80" cy="347.40" r="1.40" fill="#5A7AD0" />
<text x="610.00" y="351.80" font-size="11.8" text-anchor="start" font-weight="normal" font-style="normal" fill="#111" >1 <tspan font-family="Liberation Serif, serif">μ</tspan>M TryA</text>
<circle cx="600.80" cy="363.10" r="5.00" fill="#90D990" />
<circle cx="600.80" cy="363.10" r="1.40" fill="#33B545" />
<text x="610.00" y="366.40" font-size="11.8" text-anchor="start" font-weight="normal" font-style="normal" fill="#111" >1 <tspan font-family="Liberation Serif, serif">μ</tspan>M revSHP</text>
<text x="2.50" y="487.00" font-size="24" text-anchor="start" font-weight="normal" font-style="normal" fill="#000" >e</text>
<rect x="48.00" y="490.90" width="127.50" height="210.60" fill="#EBEBEB" />
<line x1="48.00" y1="668.55" x2="175.50" y2="668.55" stroke="#F7F7F7" stroke-width="0.6" />
<line x1="48.00" y1="620.45" x2="175.50" y2="620.45" stroke="#F7F7F7" stroke-width="0.6" />
<line x1="48.00" y1="572.35" x2="175.50" y2="572.35" stroke="#F7F7F7" stroke-width="0.6" />
<line x1="48.00" y1="524.25" x2="175.50" y2="524.25" stroke="#F7F7F7" stroke-width="0.6" />
<line x1="48.00" y1="692.60" x2="175.50" y2="692.60" stroke="#fff" stroke-width="1.1" />
<line x1="48.00" y1="644.50" x2="175.50" y2="644.50" stroke="#fff" stroke-width="1.1" />
<line x1="48.00" y1="596.40" x2="175.50" y2="596.40" stroke="#fff" stroke-width="1.1" />
<line x1="48.00" y1="548.30" x2="175.50" y2="548.30" stroke="#fff" stroke-width="1.1" />
<line x1="48.00" y1="500.20" x2="175.50" y2="500.20" stroke="#fff" stroke-width="1.1" />
<line x1="60.30" y1="490.90" x2="60.30" y2="701.50" stroke="#fff" stroke-width="1.1" />
<line x1="81.05" y1="490.90" x2="81.05" y2="701.50" stroke="#fff" stroke-width="1.1" />
<line x1="101.40" y1="490.90" x2="101.40" y2="701.50" stroke="#fff" stroke-width="1.1" />
<line x1="122.40" y1="490.90" x2="122.40" y2="701.50" stroke="#fff" stroke-width="1.1" />
<line x1="143.20" y1="490.90" x2="143.20" y2="701.50" stroke="#fff" stroke-width="1.1" />
<line x1="163.95" y1="490.90" x2="163.95" y2="701.50" stroke="#fff" stroke-width="1.1" />
<rect x="51.00" y="500.20" width="18.60" height="192.40" fill="#B077BC" />
<rect x="72.00" y="500.20" width="18.10" height="192.40" fill="#B077BC" />
<rect x="92.20" y="500.20" width="18.40" height="192.40" fill="#B077BC" />
<rect x="113.20" y="500.20" width="18.40" height="192.40" fill="#B077BC" />
<rect x="134.00" y="500.20" width="18.40" height="192.40" fill="#B077BC" />
<rect x="154.80" y="500.20" width="18.30" height="192.40" fill="#B077BC" />
<rect x="113.20" y="500.20" width="18.40" height="3.70" fill="#6F8FC8" />
<line x1="42.80" y1="692.60" x2="48.00" y2="692.60" stroke="#333" stroke-width="1.0" />
<text x="38.40" y="694.40" font-size="10.8" text-anchor="end" font-weight="normal" font-style="normal" fill="#4d4d4d" >0%</text>
<line x1="42.80" y1="644.50" x2="48.00" y2="644.50" stroke="#333" stroke-width="1.0" />
<text x="40.90" y="646.30" font-size="10.8" text-anchor="end" font-weight="normal" font-style="normal" fill="#4d4d4d" >25%</text>
<line x1="42.80" y1="596.40" x2="48.00" y2="596.40" stroke="#333" stroke-width="1.0" />
<text x="40.70" y="598.20" font-size="10.8" text-anchor="end" font-weight="normal" font-style="normal" fill="#4d4d4d" >50%</text>
<line x1="42.80" y1="548.30" x2="48.00" y2="548.30" stroke="#333" stroke-width="1.0" />
<text x="40.90" y="550.10" font-size="10.8" text-anchor="end" font-weight="normal" font-style="normal" fill="#4d4d4d" >75%</text>
<line x1="42.80" y1="500.20" x2="48.00" y2="500.20" stroke="#333" stroke-width="1.0" />
<text x="42.50" y="502.00" font-size="10.8" text-anchor="end" font-weight="normal" font-style="normal" fill="#4d4d4d" >100%</text>
<text transform="translate(10.6,601.5) rotate(-90)" font-size="11.8" text-anchor="middle" fill="#111">Relative Abundance</text>
<line x1="60.30" y1="702.80" x2="60.30" y2="712.50" stroke="#333" stroke-width="1.0" />
<line x1="81.05" y1="702.80" x2="81.05" y2="712.50" stroke="#333" stroke-width="1.0" />
<line x1="101.40" y1="702.80" x2="101.40" y2="712.50" stroke="#333" stroke-width="1.0" />
<line x1="122.40" y1="702.80" x2="122.40" y2="712.50" stroke="#333" stroke-width="1.0" />
<line x1="143.20" y1="702.80" x2="143.20" y2="712.50" stroke="#333" stroke-width="1.0" />
<line x1="163.95" y1="702.80" x2="163.95" y2="712.50" stroke="#333" stroke-width="1.0" />
<line x1="57.30" y1="720.10" x2="85.40" y2="720.10" stroke="#000" stroke-width="2.4" />
<line x1="98.30" y1="720.10" x2="126.10" y2="720.10" stroke="#000" stroke-width="2.4" />
<line x1="138.50" y1="720.10" x2="166.30" y2="720.10" stroke="#000" stroke-width="2.4" />
<text transform="translate(75.3,731.0) rotate(-60)" font-size="11.6" text-anchor="end" fill="#111">PBS</text>
<text transform="translate(121.5,728.0) rotate(-60)" font-size="11.6" text-anchor="end" fill="#111">1 <tspan font-family="Liberation Serif, serif">μ</tspan>M TryA</text>
<text transform="translate(161.0,730.0) rotate(-60)" font-size="11.6" text-anchor="end" fill="#111">1 <tspan font-family="Liberation Serif, serif">μ</tspan>M revSHP</text>
<text x="106.40" y="807.50" font-size="12" text-anchor="middle" font-weight="normal" font-style="normal" fill="#111" >Samples</text>
<text x="184.20" y="498.70" font-size="11.7" text-anchor="start" font-weight="normal" font-style="normal" fill="#111" >Species</text>
<rect x="186.10" y="509.10" width="12.00" height="11.70" fill="#EA6C70" />
<text x="213.90" y="514.30" font-size="11.7" text-anchor="start" font-weight="normal" font-style="normal" fill="#111" >Candidatus</text>
<text x="213.90" y="528.60" font-size="11.7" text-anchor="start" font-weight="normal" font-style="italic" fill="#111" >Nanogingivalaceae</text>
<text x="213.90" y="542.30" font-size="11.7" text-anchor="start" font-weight="normal" font-style="normal" fill="#111" >GGB12785</text>
<text x="213.90" y="556.50" font-size="11.7" text-anchor="start" font-weight="normal" font-style="normal" fill="#111" >SGB19823</text>
<rect x="186.10" y="562.30" width="12.20" height="11.80" fill="#D39436" />
<text x="203.50" y="572.80" font-size="11.7" text-anchor="start" font-weight="normal" font-style="italic" fill="#111" >S. cristatus</text>
<rect x="186.10" y="578.40" width="12.20" height="11.80" fill="#9AB545" />
<text x="202.50" y="587.10" font-size="11.7" text-anchor="start" font-weight="normal" font-style="italic" fill="#111" >S. gordonii</text>
<rect x="186.10" y="594.10" width="12.20" height="11.80" fill="#4CC25A" />
<text x="203.90" y="603.90" font-size="11.7" text-anchor="start" font-weight="normal" font-style="italic" fill="#111" >S. infantis</text>
<rect x="186.10" y="610.20" width="12.20" height="11.80" fill="#5CCBA2" />
<text x="204.50" y="619.20" font-size="11.7" text-anchor="start" font-weight="normal" font-style="italic" fill="#111" >S. mitis</text>
<rect x="186.10" y="626.10" width="12.20" height="11.80" fill="#6E8ECF" />
<text x="203.90" y="637.20" font-size="11.7" text-anchor="start" font-weight="normal" font-style="italic" fill="#111" >S. parasanguinis</text>
<rect x="186.10" y="642.60" width="12.20" height="11.80" fill="#58C1D9" />
<text x="203.90" y="653.60" font-size="11.7" text-anchor="start" font-weight="normal" font-style="italic" fill="#111" >S. oralis</text>
<rect x="186.10" y="659.10" width="12.20" height="11.80" fill="#AE76BB" />
<text x="203.50" y="669.30" font-size="11.7" text-anchor="start" font-weight="normal" font-style="italic" fill="#111" >S. salivarius</text>
<rect x="186.10" y="675.20" width="12.20" height="11.80" fill="#E066AE" />
<text x="202.80" y="682.50" font-size="11.7" text-anchor="start" font-weight="normal" font-style="italic" fill="#111" >S. sanguinis</text>
<text x="322.00" y="494.00" font-size="24" text-anchor="start" font-weight="normal" font-style="normal" fill="#000" >f</text>
<rect x="366.80" y="514.90" width="15.20" height="190.50" fill="#EBEBEB" />
<line x1="366.80" y1="696.70" x2="382.00" y2="696.70" stroke="#fff" stroke-width="1.0" />
<line x1="366.80" y1="653.30" x2="382.00" y2="653.30" stroke="#fff" stroke-width="1.0" />
<line x1="366.80" y1="609.90" x2="382.00" y2="609.90" stroke="#fff" stroke-width="1.0" />
<line x1="366.80" y1="566.50" x2="382.00" y2="566.50" stroke="#fff" stroke-width="1.0" />
<line x1="366.80" y1="523.10" x2="382.00" y2="523.10" stroke="#fff" stroke-width="1.0" />
<line x1="374.60" y1="514.90" x2="374.60" y2="705.40" stroke="#fff" stroke-width="1.0" />
<rect x="368.50" y="523.10" width="11.50" height="21.18" fill="#E96B6E" />
<rect x="368.50" y="544.28" width="11.50" height="57.29" fill="#D38D33" />
<rect x="368.50" y="601.57" width="11.50" height="13.02" fill="#55C466" />
<rect x="368.50" y="614.59" width="11.50" height="67.36" fill="#5DCBA2" />
<rect x="368.50" y="681.94" width="11.50" height="3.82" fill="#5BC4DA" />
<rect x="368.50" y="685.76" width="11.50" height="10.94" fill="#5E9AD3" />
<line x1="358.80" y1="696.70" x2="366.60" y2="696.70" stroke="#333" stroke-width="1.0" />
<text x="356.90" y="699.30" font-size="11.3" text-anchor="end" font-weight="normal" font-style="normal" fill="#333" >0%</text>
<line x1="358.80" y1="653.30" x2="366.60" y2="653.30" stroke="#333" stroke-width="1.0" />
<text x="356.90" y="655.90" font-size="11.3" text-anchor="end" font-weight="normal" font-style="normal" fill="#333" >25%</text>
<line x1="358.80" y1="609.90" x2="366.60" y2="609.90" stroke="#333" stroke-width="1.0" />
<text x="356.90" y="612.50" font-size="11.3" text-anchor="end" font-weight="normal" font-style="normal" fill="#333" >50%</text>
<line x1="358.80" y1="566.50" x2="366.60" y2="566.50" stroke="#333" stroke-width="1.0" />
<text x="356.90" y="569.10" font-size="11.3" text-anchor="end" font-weight="normal" font-style="normal" fill="#333" >75%</text>
<line x1="358.80" y1="523.10" x2="366.60" y2="523.10" stroke="#333" stroke-width="1.0" />
<text x="356.90" y="525.70" font-size="11.3" text-anchor="end" font-weight="normal" font-style="normal" fill="#333" >100%</text>
<text transform="translate(327.6,597.0) rotate(-90)" font-size="11.6" text-anchor="middle" fill="#111">Relative Abundance</text>
<line x1="374.40" y1="706.10" x2="374.40" y2="716.70" stroke="#333" stroke-width="1.0" />
<text transform="translate(381.5,720.5) rotate(-60)" font-size="11.6" text-anchor="end" font-style="italic" fill="#111">Saliva</text>
<text x="372.60" y="762.00" font-size="11.8" text-anchor="middle" font-weight="normal" font-style="normal" fill="#111" >Sample</text>
<text x="390.30" y="512.40" font-size="11.8" text-anchor="start" font-weight="bold" font-style="normal" fill="#111" >Phylum</text>
<rect x="391.10" y="520.80" width="9.30" height="9.20" fill="#E96B6E" />
<text x="402.40" y="528.30" font-size="11.7" text-anchor="start" font-weight="normal" font-style="normal" fill="#111" >Actinobacteria</text>
<rect x="391.10" y="532.20" width="9.30" height="9.20" fill="#D38D33" />
<text x="402.40" y="539.70" font-size="11.7" text-anchor="start" font-weight="normal" font-style="normal" fill="#111" >Bacteroidetes</text>
<rect x="391.10" y="545.00" width="9.30" height="9.20" fill="#A8A43A" />
<text x="402.40" y="552.80" font-size="11.7" text-anchor="start" font-weight="normal" font-style="normal" fill="#111" >Candidatus</text>
<text x="402.40" y="566.30" font-size="11.7" text-anchor="start" font-weight="normal" font-style="normal" fill="#111" >Absconditabacteria</text>
<rect x="391.10" y="571.10" width="9.30" height="9.20" fill="#6CC24A" />
<text x="402.40" y="578.10" font-size="11.7" text-anchor="start" font-weight="normal" font-style="normal" fill="#111" >Candidatus</text>
<text x="402.40" y="592.20" font-size="11.7" text-anchor="start" font-weight="normal" font-style="normal" fill="#111" >Gracilibacteria</text>
<rect x="391.10" y="596.50" width="9.30" height="9.20" fill="#4CC26A" />
<text x="402.40" y="603.50" font-size="11.7" text-anchor="start" font-weight="normal" font-style="normal" fill="#111" >Candidatus</text>
<text x="402.40" y="617.60" font-size="11.7" text-anchor="start" font-weight="normal" font-style="normal" fill="#111" >Saccharibacteria</text>
<rect x="391.10" y="621.90" width="9.30" height="9.20" fill="#5DCBA2" />
<text x="402.40" y="628.40" font-size="11.7" text-anchor="start" font-weight="normal" font-style="normal" fill="#111" >Firmicutes</text>
<rect x="391.10" y="633.30" width="9.30" height="9.20" fill="#5BC4DA" />
<text x="402.40" y="640.30" font-size="11.7" text-anchor="start" font-weight="normal" font-style="normal" fill="#111" >Fusobacteria</text>
<rect x="391.10" y="644.40" width="9.30" height="9.20" fill="#5E9AD3" />
<text x="402.40" y="651.90" font-size="11.7" text-anchor="start" font-weight="normal" font-style="normal" fill="#111" >Proteobacteria</text>
<rect x="391.10" y="655.00" width="9.30" height="9.20" fill="#9C83C6" />
<text x="402.40" y="662.90" font-size="11.7" text-anchor="start" font-weight="normal" font-style="normal" fill="#111" >Spirochaetes</text>
<rect x="391.10" y="666.40" width="9.30" height="9.20" fill="#BE6DBA" />
<text x="402.40" y="673.80" font-size="11.7" text-anchor="start" font-weight="normal" font-style="normal" fill="#111" >Synergistetes</text>
<rect x="391.10" y="679.10" width="9.30" height="9.20" fill="#E55FA5" />
<text x="402.40" y="686.10" font-size="11.7" text-anchor="start" font-weight="normal" font-style="normal" fill="#111" >Tenericutes</text>
<rect x="557.60" y="512.40" width="10.40" height="190.90" fill="#fff" />
<rect x="557.60" y="512.40" width="10.40" height="110.72" fill="#86D385" />
<rect x="557.60" y="623.12" width="10.40" height="79.61" fill="#B8A9DA" />
<rect x="557.60" y="702.73" width="10.40" height="0.57" fill="#F0B67E" />
<line x1="557.00" y1="512.40" x2="557.00" y2="703.30" stroke="#555" stroke-width="1.2" />
<line x1="557.00" y1="703.30" x2="569.70" y2="703.30" stroke="#333" stroke-width="1.2" />
<line x1="548.80" y1="703.30" x2="557.00" y2="703.30" stroke="#333" stroke-width="1.2" />
<text x="542.00" y="705.10" font-size="11.3" text-anchor="end" font-weight="normal" font-style="normal" fill="#222" >0%</text>
<line x1="548.80" y1="684.21" x2="557.00" y2="684.21" stroke="#333" stroke-width="1.2" />
<text x="546.60" y="686.01" font-size="11.3" text-anchor="end" font-weight="normal" font-style="normal" fill="#222" >10%</text>
<line x1="548.80" y1="665.12" x2="557.00" y2="665.12" stroke="#333" stroke-width="1.2" />
<text x="546.60" y="666.92" font-size="11.3" text-anchor="end" font-weight="normal" font-style="normal" fill="#222" >20%</text>
<line x1="548.80" y1="646.03" x2="557.00" y2="646.03" stroke="#333" stroke-width="1.2" />
<text x="546.60" y="647.83" font-size="11.3" text-anchor="end" font-weight="normal" font-style="normal" fill="#222" >30%</text>
<line x1="548.80" y1="626.94" x2="557.00" y2="626.94" stroke="#333" stroke-width="1.2" />
<text x="546.60" y="628.74" font-size="11.3" text-anchor="end" font-weight="normal" font-style="normal" fill="#222" >40%</text>
<line x1="548.80" y1="607.85" x2="557.00" y2="607.85" stroke="#333" stroke-width="1.2" />
<text x="546.60" y="609.65" font-size="11.3" text-anchor="end" font-weight="normal" font-style="normal" fill="#222" >50%</text>
<line x1="548.80" y1="588.76" x2="557.00" y2="588.76" stroke="#333" stroke-width="1.2" />
<text x="546.60" y="590.56" font-size="11.3" text-anchor="end" font-weight="normal" font-style="normal" fill="#222" >60%</text>
<line x1="548.80" y1="569.67" x2="557.00" y2="569.67" stroke="#333" stroke-width="1.2" />
<text x="546.60" y="571.47" font-size="11.3" text-anchor="end" font-weight="normal" font-style="normal" fill="#222" >70%</text>
<line x1="548.80" y1="550.58" x2="557.00" y2="550.58" stroke="#333" stroke-width="1.2" />
<text x="546.60" y="552.38" font-size="11.3" text-anchor="end" font-weight="normal" font-style="normal" fill="#222" >80%</text>
<line x1="548.80" y1="531.49" x2="557.00" y2="531.49" stroke="#333" stroke-width="1.2" />
<text x="546.60" y="533.29" font-size="11.3" text-anchor="end" font-weight="normal" font-style="normal" fill="#222" >90%</text>
<line x1="548.80" y1="512.40" x2="557.00" y2="512.40" stroke="#333" stroke-width="1.2" />
<text x="550.50" y="514.20" font-size="11.3" text-anchor="end" font-weight="normal" font-style="normal" fill="#222" >100%</text>
<line x1="563.00" y1="703.30" x2="563.00" y2="713.90" stroke="#555" stroke-width="1.2" />
<line x1="569.70" y1="703.30" x2="569.70" y2="705.50" stroke="#333" stroke-width="1.0" />
<text transform="translate(519.0,591.5) rotate(-90)" font-size="12.1" text-anchor="middle" fill="#111">Relative Frequency</text>
<text transform="translate(567.5,719.1) rotate(-60)" font-size="11.6" text-anchor="end" font-style="italic" fill="#111">Saliva</text>
<text x="557.00" y="763.90" font-size="11.8" text-anchor="middle" font-weight="normal" font-style="normal" fill="#111" >Sample</text>
<text x="571.60" y="513.80" font-size="11.8" text-anchor="start" font-weight="bold" font-style="normal" fill="#111" >Phylum</text>
<rect x="573.20" y="522.50" width="9.80" height="9.40" fill="#86D385" />
<text x="586.00" y="529.20" font-size="11.7" text-anchor="start" font-weight="normal" font-style="normal" fill="#111" >Ascomycota</text>
<rect x="573.20" y="534.30" width="9.80" height="9.40" fill="#B8A9DA" />
<text x="586.00" y="540.90" font-size="11.7" text-anchor="start" font-weight="normal" font-style="normal" fill="#111" >Basidiomycota</text>
<rect x="573.20" y="545.30" width="9.80" height="9.40" fill="#F0B67E" />
<text x="586.00" y="552.30" font-size="11.7" text-anchor="start" font-weight="normal" font-style="normal" fill="#111" >Fungi, unclassified</text>
</svg></body></html>
